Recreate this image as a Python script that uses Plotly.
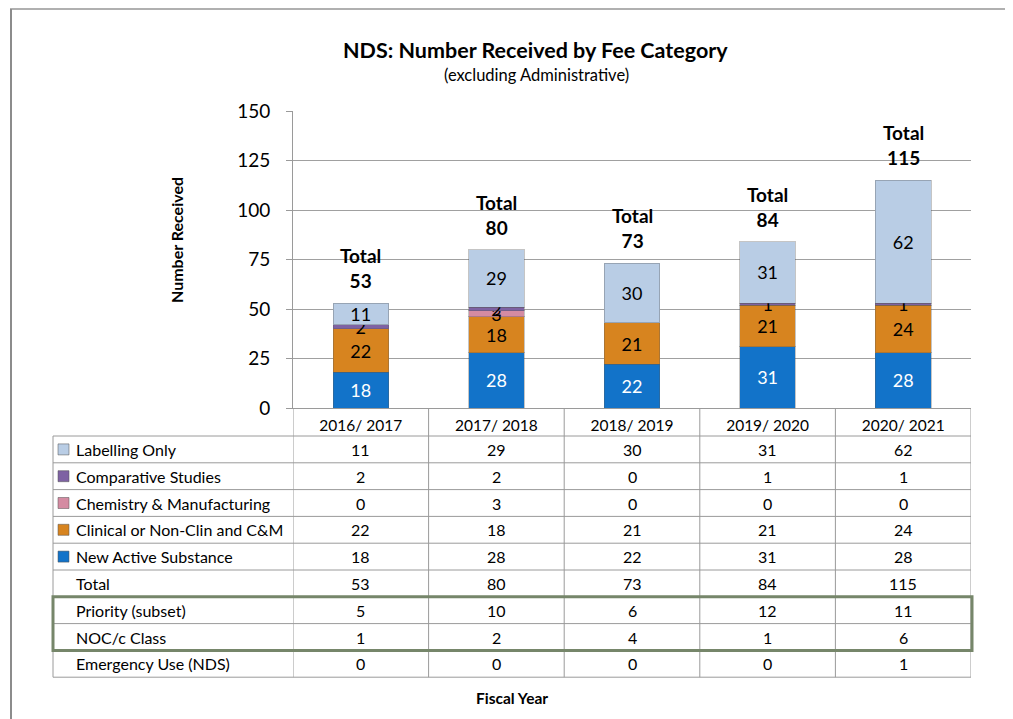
import plotly.graph_objects as go

# ---------------- data ----------------
years = ["2016/ 2017", "2017/ 2018", "2018/ 2019", "2019/ 2020", "2020/ 2021"]
labelling = [11, 29, 30, 31, 62]
comparative = [2, 2, 0, 1, 1]
chemistry = [0, 3, 0, 0, 0]
clinical = [22, 18, 21, 21, 24]
nas = [18, 28, 22, 31, 28]
totals = [53, 80, 73, 84, 115]
priority = [5, 10, 6, 12, 11]
noc = [1, 2, 4, 1, 6]
emergency = [0, 0, 0, 0, 1]

series_names = ["New Active Substance", "Clinical or Non-Clin and C&M",
                "Chemistry & Manufacturing", "Comparative Studies", "Labelling Only"]
series_values = [nas, clinical, chemistry, comparative, labelling]
series_colors = ["#1273C9", "#D7841F", "#D48BA2", "#7E62A3", "#B9CDE5"]
series_textcolors = ["white", "black", "black", "black", "black"]

# table rows (top to bottom)
table_rows = [
    ("Labelling Only", labelling, "#B9CDE5"),
    ("Comparative Studies", comparative, "#7E62A3"),
    ("Chemistry & Manufacturing", chemistry, "#D48BA2"),
    ("Clinical or Non-Clin and C&M", clinical, "#D7841F"),
    ("New Active Substance", nas, "#1273C9"),
    ("Total", totals, None),
    ("Priority (subset)", priority, None),
    ("NOC/c Class", noc, None),
    ("Emergency Use (NDS)", emergency, None),
]

FONT = "Lato"
OFF = 8                      # page body margin of the html page
W, H = 1013, 719             # browser window
X0, X1 = 293, 971            # plot area in page pixels
Y0, Y1 = 408, 111
PW, PH = X1 - X0, Y0 - Y1


def px(x):
    return (x - X0) / PW


def py(y):
    return (Y0 - y) / PH


fig = go.Figure()

for name, vals, col, tcol in zip(series_names, series_values, series_colors, series_textcolors):
    fig.add_trace(go.Bar(
        x=years, y=vals, name=name,
        marker=dict(color=col, line=dict(color="rgba(90,90,90,0.35)", width=1)),
        text=[str(v) if v else "" for v in vals],
        textposition="inside", insidetextanchor="middle", textangle=0,
        textfont=dict(family=FONT, size=18, color=tcol),
        width=0.41, showlegend=False, hoverinfo="skip",
    ))

shapes = []
annotations = []
grid = "#9A9A9A"

# total labels above bars
for yr, t in zip(years, totals):
    annotations.append(dict(xref="x", yref="y", x=yr, y=t, yanchor="bottom", xanchor="center",
                            yshift=9, showarrow=False,
                            text="<b>Total</b><br><b>%d</b>" % t,
                            font=dict(family=FONT, size=19, color="black")))

# row boundaries (pixel y)
row_top = 436
row_h = 26.8
n_rows = len(table_rows)
row_lines = [row_top + i * row_h for i in range(n_rows + 1)]

for yl in row_lines:
    shapes.append(dict(type="line", xref="paper", yref="paper",
                       x0=px(53), x1=px(X1), y0=py(yl), y1=py(yl),
                       line=dict(color=grid, width=1)))
shapes.append(dict(type="line", xref="paper", yref="paper",
                   x0=px(53), x1=px(53), y0=py(row_lines[0]), y1=py(row_lines[-1]),
                   line=dict(color=grid, width=1)))
for i in range(len(years) + 1):
    shapes.append(dict(type="line", xref="x", yref="paper",
                       x0=i - 0.5, x1=i - 0.5, y0=0, y1=py(row_lines[-1]),
                       line=dict(color=grid, width=1)))

# green box around priority / NOC rows
shapes.append(dict(type="rect", xref="paper", yref="paper",
                   x0=px(53), x1=px(972), y0=py(row_lines[6]), y1=py(row_lines[8]),
                   line=dict(color="#76866A", width=3)))

# outer chart border (top / left visible)
shapes.append(dict(type="line", xref="paper", yref="paper",
                   x0=px(10), x1=px(W), y0=py(9), y1=py(9),
                   line=dict(color="#B0B0B0", width=2)))
shapes.append(dict(type="line", xref="paper", yref="paper",
                   x0=px(11), x1=px(11), y0=py(9), y1=py(H),
                   line=dict(color="#8C8C8C", width=2)))

for r, (label, vals, col) in enumerate(table_rows):
    yc = row_lines[r] + row_h / 2
    if col:
        shapes.append(dict(type="rect", xref="paper", yref="paper",
                           x0=px(58), x1=px(69), y0=py(yc - 5.5), y1=py(yc + 5.5),
                           fillcolor=col, line=dict(color="rgba(80,80,80,0.5)", width=1)))
    annotations.append(dict(xref="paper", yref="paper", x=px(74), y=py(yc),
                            text=label, showarrow=False, xanchor="left", yanchor="middle",
                            font=dict(family=FONT, size=16, color="black")))
    for i, v in enumerate(vals):
        annotations.append(dict(xref="x", yref="paper", x=years[i], y=py(yc),
                                text=str(v), showarrow=False, xanchor="center", yanchor="middle",
                                font=dict(family=FONT, size=16, color="black")))

# titles
annotations.append(dict(xref="paper", yref="paper", x=px(535), y=py(50),
                        text="<b>NDS: Number Received by Fee Category</b>", showarrow=False,
                        xanchor="center", yanchor="middle",
                        font=dict(family=FONT, size=21.5, color="black")))
annotations.append(dict(xref="paper", yref="paper", x=px(536), y=py(75),
                        text="(excluding Administrative)", showarrow=False,
                        xanchor="center", yanchor="middle",
                        font=dict(family=FONT, size=16.5, color="black")))
annotations.append(dict(xref="paper", yref="paper", x=px(176), y=py(240),
                        text="<b>Number Received</b>", showarrow=False, textangle=-90,
                        xanchor="center", yanchor="middle",
                        font=dict(family=FONT, size=16, color="black")))
annotations.append(dict(xref="paper", yref="paper", x=px(512), y=py(698),
                        text="<b>Fiscal Year</b>", showarrow=False,
                        xanchor="center", yanchor="middle",
                        font=dict(family=FONT, size=15.5, color="black")))

fig.update_layout(
    width=W - OFF, height=H - OFF, autosize=False,
    margin=dict(l=X0 - OFF, r=W - X1, t=Y1 - OFF, b=H - Y0, pad=0),
    barmode="stack",
    paper_bgcolor="white", plot_bgcolor="white",
    uniformtext=dict(minsize=18, mode="show"),
    shapes=shapes, annotations=annotations,
    font=dict(family=FONT, color="black"),
)
fig.update_xaxes(range=[-0.5, 4.5], showline=True, linecolor=grid, linewidth=1,
                 showgrid=False, ticks="", tickfont=dict(family=FONT, size=15.5, color="black"),
                 ticklabelstandoff=3)
fig.update_yaxes(range=[0, 150], tickvals=[0, 25, 50, 75, 100, 125, 150],
                 showline=True, linecolor=grid, linewidth=1,
                 showgrid=True, gridcolor="#A0A0A0", gridwidth=1,
                 ticks="outside", ticklen=6, tickcolor=grid,
                 tickfont=dict(family=FONT, size=19, color="black"),
                 ticklabelstandoff=12, zeroline=False)

fig.write_html("out.html")
